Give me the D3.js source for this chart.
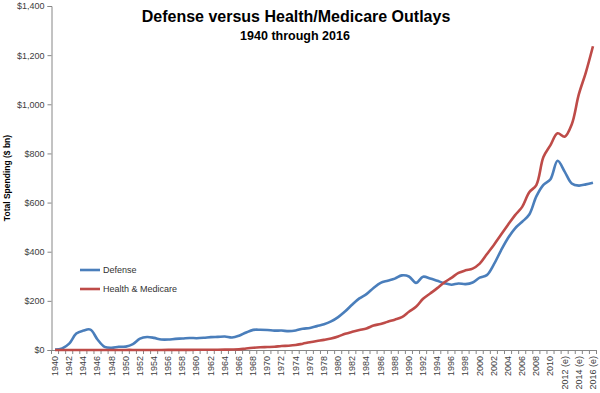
<!DOCTYPE html>
<html><head><meta charset="utf-8">
<script src="https://cdn.jsdelivr.net/npm/d3@7"></script>
<style>body{margin:0;background:#fff}svg{display:block}</style>
</head><body>
<svg id="c" width="600" height="393"></svg>
<script>
const years = d3.range(1940, 2017);
const yearLabels = years.map(y => (y % 2 === 0) ? (y >= 2012 ? y + " (e)" : String(y)) : "");
const defense = [1.7,6.4,25.7,66.7,79.1,83.0,42.7,12.8,9.1,13.2,
  13.7,23.6,46.1,52.8,49.3,42.7,42.5,45.4,46.8,49.0,
  48.1,49.6,52.3,53.4,54.8,50.6,58.1,71.4,81.9,82.5,
  81.7,78.9,79.2,76.7,79.3,86.5,89.6,97.2,104.5,116.3,
  134.0,157.5,185.3,209.9,227.4,252.7,273.4,282.0,290.4,303.6,
  299.3,273.3,298.4,291.1,281.6,272.1,265.8,270.5,268.2,274.8,
  294.4,304.7,348.5,404.7,455.8,495.3,521.8,551.3,625,672,
  695,770,726,678,669,674,681];
const health = [0.1,0.1,0.1,0.1,0.2,0.2,0.2,0.2,0.2,0.2,
  0.3,0.3,0.3,0.3,0.3,0.3,0.4,0.5,0.5,0.7,
  0.8,0.9,1.2,1.3,1.7,1.8,2.6,6.1,9.0,10.9,
  12.1,13.4,16.2,17.5,20.3,25.8,31.5,36.6,41.3,47.0,
  55.3,66.0,74.0,81.2,87.9,99.3,106.1,115.1,123.4,133.4,
  155.8,175.7,208.5,230.0,251.8,275.3,293.6,313.8,324.2,331.4,
  351.6,389.6,427.4,468.9,509.5,549.1,582.6,641.8,671.4,785,
  834,882,868,918,1040,1130,1236];
const yTicks = [0,200,400,600,800,1000,1200,1400];
const seriesNames = ["Defense","Health & Medicare"];
const colors = ["#4a7ebb","#be4b48"];

const svg = d3.select("#c");
const m = {l:51.5, r:596.5, t:6, b:350};
const x = d3.scaleBand().domain(years).range([m.l, m.r]).padding(0);
const y = d3.scaleLinear().domain([0,1400]).range([m.b, m.t]);
const font = "'Liberation Sans', Arial, sans-serif";

// Y axis
const ya = svg.append("g").attr("transform",`translate(${m.l},0)`)
  .call(d3.axisLeft(y).tickValues(yTicks).tickSize(4).tickPadding(3)
    .tickFormat(d => "$" + d3.format(",")(d)));
ya.select(".domain").attr("stroke","#868686");
ya.selectAll(".tick line").attr("stroke","#868686");
ya.selectAll("text").attr("font-family",font).attr("font-size","9px").attr("fill","#404040");

// X axis
const xa = svg.append("g").attr("transform",`translate(0,${m.b})`)
  .call(d3.axisBottom(x).tickSize(0).tickFormat((d,i) => yearLabels[i]));
xa.select(".domain").attr("stroke","#868686");
xa.selectAll(".tick text").attr("font-family",font).attr("font-size","9px").attr("fill","#404040")
  .attr("transform","rotate(-90)").attr("text-anchor","end").attr("dy","0.32em").attr("x",-6).attr("y",0);
// tick marks between categories
svg.append("g").selectAll("line").data(d3.range(years.length+1)).join("line")
  .attr("x1", i => m.l + i*x.bandwidth()).attr("x2", i => m.l + i*x.bandwidth())
  .attr("y1", m.b).attr("y2", m.b+4).attr("stroke","#868686");

// Lines
const line = d3.line().x((d,i) => x(years[i]) + x.bandwidth()/2).y(d => y(d))
  .curve(d3.curveCatmullRom.alpha(0.5));
[defense, health].forEach((s,k) => {
  svg.append("path").datum(s).attr("d", line).attr("fill","none")
    .attr("stroke", colors[k]).attr("stroke-width", 2.6).attr("stroke-linejoin","round");
});

// Legend
const lg = svg.append("g");
seriesNames.forEach((n,k) => {
  const yy = 270 + k*19;
  lg.append("line").attr("x1",80).attr("x2",100).attr("y1",yy).attr("y2",yy)
    .attr("stroke",colors[k]).attr("stroke-width",2.6);
  lg.append("text").attr("x",103).attr("y",yy).attr("dy","0.35em")
    .attr("font-family",font).attr("font-size","9px").attr("fill","#333").text(n);
});

// Titles
svg.append("text").attr("x",296).attr("y",22).attr("text-anchor","middle")
  .attr("font-family",font).attr("font-weight","bold").attr("font-size","16px").attr("fill","#000")
  .text("Defense versus Health/Medicare Outlays");
svg.append("text").attr("x",295).attr("y",40).attr("text-anchor","middle")
  .attr("font-family",font).attr("font-weight","bold").attr("font-size","12.5px").attr("fill","#000")
  .text("1940 through 2016");
svg.append("text").attr("transform","translate(10,178) rotate(-90)").attr("text-anchor","middle")
  .attr("font-family",font).attr("font-weight","bold").attr("font-size","8.5px").attr("fill","#000")
  .text("Total Spending ($ bn)");
</script>
</body></html>
